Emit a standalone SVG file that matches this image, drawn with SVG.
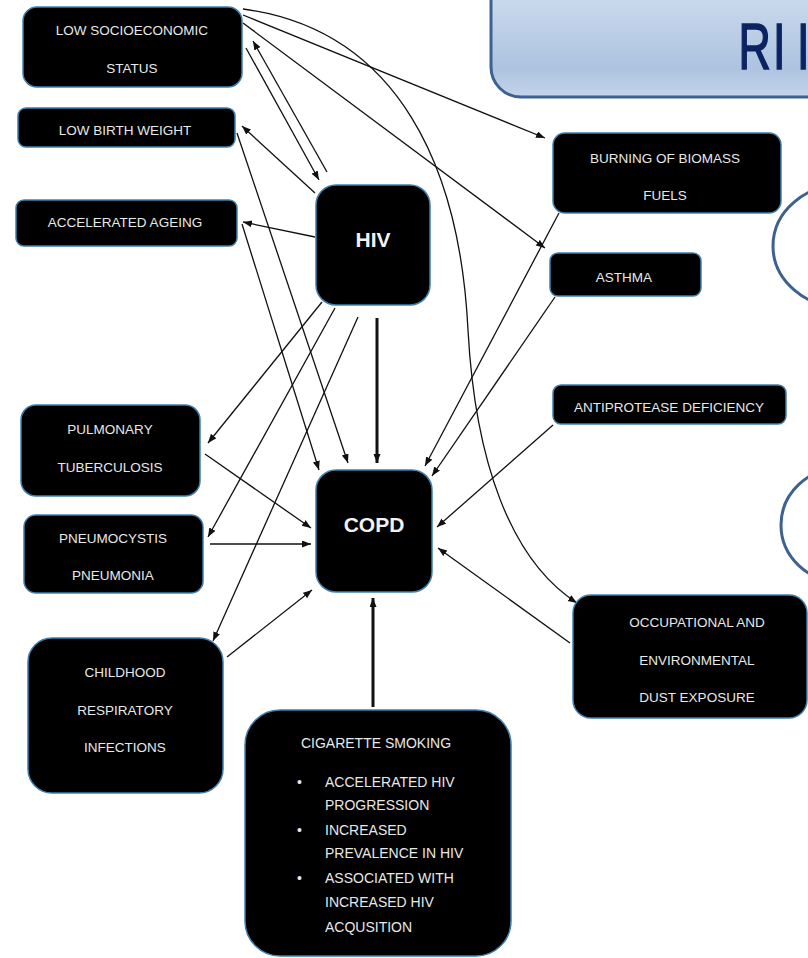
<svg xmlns="http://www.w3.org/2000/svg" width="808" height="958" viewBox="0 0 808 958">
<style>
.node rect{fill:#000;stroke:#3f7fae;stroke-width:1.5}
.node text{fill:#e8e8e8;font-family:"Liberation Sans",Arial,sans-serif;font-size:13.5px;text-anchor:middle}
.node text.big{font-size:21px;font-weight:bold;fill:#f2f2f2}
.node text.l{text-anchor:start;font-size:14px}
.c line,.c path{stroke:#111;stroke-width:1.3;fill:none;marker-end:url(#ah)}
.c .thick{stroke-width:3}
.oval{fill:none;stroke:#3d6190;stroke-width:3}
</style>
<defs>
<marker id="ah" markerUnits="userSpaceOnUse" markerWidth="10" markerHeight="8" refX="9" refY="3.5" orient="auto">
<path d="M0,0 L9,3.5 L0,7 z" fill="#111"/>
</marker>
<linearGradient id="tg" gradientUnits="userSpaceOnUse" x1="0" y1="0" x2="0" y2="97">
<stop offset="0" stop-color="#c9d9ec"/>
<stop offset="0.7" stop-color="#adc3e0"/>
<stop offset="1" stop-color="#c3d4ea"/>
</linearGradient>
</defs>
<rect width="808" height="958" fill="#fff"/>
<g id="title">
<rect x="491" y="-40" width="360" height="137" rx="30" fill="url(#tg)" stroke="#3d6190" stroke-width="3"/>
<text transform="translate(738.4,69) scale(0.7,1)" x="0 49.4 83.7" y="0" font-family="'Liberation Sans',Arial,sans-serif" font-size="64" fill="#0b2461" stroke="#0b2461" stroke-width="1.6">RII</text>
</g>
<g id="ovals">
<ellipse class="oval" cx="845" cy="246" rx="72" ry="62"/>
<ellipse class="oval" cx="841" cy="525" rx="60" ry="57"/>
</g>
<g class="c" id="connectors">
<path d="M243,9 C400,30 460,170 468,330 C475,460 510,560 577,603"/>
<line x1="243" y1="15" x2="545" y2="138"/>
<line x1="243" y1="23" x2="545" y2="248"/>
<line x1="327" y1="172" x2="253" y2="41"/>
<line x1="246" y1="48" x2="319" y2="180"/>
<line x1="315" y1="193" x2="242" y2="126"/>
<line x1="315" y1="237" x2="243" y2="222"/>
<line x1="237" y1="133" x2="348" y2="463"/>
<line x1="242" y1="224" x2="319" y2="470"/>
<line x1="322" y1="302" x2="208" y2="443"/>
<line x1="335" y1="308" x2="208" y2="537"/>
<line x1="358" y1="317" x2="213" y2="641"/>
<line class="thick" x1="377" y1="318" x2="377" y2="463"/>
<line x1="205" y1="454" x2="311" y2="528"/>
<line x1="210" y1="544" x2="311" y2="544"/>
<line x1="227" y1="657" x2="312" y2="590"/>
<line class="thick" x1="373" y1="707" x2="373" y2="598"/>
<line x1="559" y1="213" x2="425" y2="466"/>
<line x1="555" y1="297" x2="432" y2="476"/>
<line x1="553" y1="425" x2="437" y2="527"/>
<line x1="570" y1="643" x2="438" y2="548"/>
</g>
<g class="node" id="n-lses"><rect x="23" y="7" width="219" height="80" rx="14"/><text x="132" y="35">LOW SOCIOECONOMIC</text><text x="132" y="73">STATUS</text></g>
<g class="node" id="n-lbw"><rect x="18" y="108" width="217" height="39" rx="8"/><text x="125" y="135">LOW BIRTH WEIGHT</text></g>
<g class="node" id="n-ageing"><rect x="16" y="200" width="221" height="46" rx="8"/><text x="125" y="227">ACCELERATED AGEING</text></g>
<g class="node" id="n-hiv"><rect x="316" y="185" width="114" height="120" rx="20"/><text class="big" x="373" y="247">HIV</text></g>
<g class="node" id="n-biomass"><rect x="553" y="133" width="228" height="80" rx="12"/><text x="665" y="163">BURNING OF BIOMASS</text><text x="665" y="200">FUELS</text></g>
<g class="node" id="n-asthma"><rect x="550" y="253" width="151" height="43" rx="8"/><text x="624" y="282">ASTHMA</text></g>
<g class="node" id="n-antiprotease"><rect x="553" y="385" width="233" height="39" rx="8"/><text x="669" y="412">ANTIPROTEASE DEFICIENCY</text></g>
<g class="node" id="n-occupational"><rect x="573" y="595" width="234" height="123" rx="18"/><text x="697" y="627">OCCUPATIONAL AND</text><text x="697" y="665">ENVIRONMENTAL</text><text x="697" y="702">DUST EXPOSURE</text></g>
<g class="node" id="n-tb"><rect x="21" y="405" width="179" height="91" rx="15"/><text x="110" y="434">PULMONARY</text><text x="110" y="472">TUBERCULOSIS</text></g>
<g class="node" id="n-pcp"><rect x="24" y="515" width="179" height="78" rx="12"/><text x="113" y="543">PNEUMOCYSTIS</text><text x="113" y="580">PNEUMONIA</text></g>
<g class="node" id="n-copd"><rect x="316" y="470" width="116" height="122" rx="20"/><text class="big" x="374" y="532">COPD</text></g>
<g class="node" id="n-childhood"><rect x="28" y="638" width="195" height="155" rx="24"/><text x="125" y="677">CHILDHOOD</text><text x="125" y="715">RESPIRATORY</text><text x="125" y="752">INFECTIONS</text></g>
<g class="node" id="n-smoking"><rect x="245" y="710" width="266" height="246" rx="35"/>
<text x="376" y="748" style="font-size:14px">CIGARETTE SMOKING</text>
<text class="l" x="297" y="787">•</text><text class="l" x="325" y="787">ACCELERATED HIV</text>
<text class="l" x="325" y="810">PROGRESSION</text>
<text class="l" x="297" y="835">•</text><text class="l" x="325" y="835">INCREASED</text>
<text class="l" x="325" y="858">PREVALENCE IN HIV</text>
<text class="l" x="297" y="883">•</text><text class="l" x="325" y="883">ASSOCIATED WITH</text>
<text class="l" x="325" y="907">INCREASED HIV</text>
<text class="l" x="325" y="932">ACQUSITION</text>
</g>
</svg>
